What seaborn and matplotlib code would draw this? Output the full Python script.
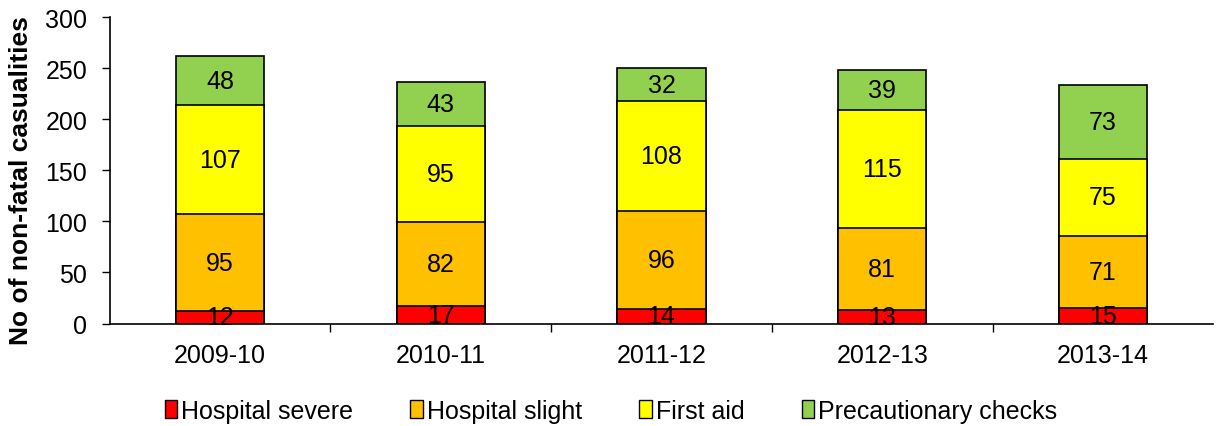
import numpy as np
import pandas as pd
import matplotlib
matplotlib.use("Agg")
import matplotlib.pyplot as plt
import seaborn as sns
from matplotlib.patches import Patch

# ---------------- Data ----------------
years = ["2009-10", "2010-11", "2011-12", "2012-13", "2013-14"]
hospital_severe = [12, 17, 14, 13, 15]
hospital_slight = [95, 82, 96, 81, 71]
first_aid = [107, 95, 108, 115, 75]
precautionary = [48, 43, 32, 39, 73]

series_names = ["Hospital severe", "Hospital slight", "First aid", "Precautionary checks"]
colors = ["#FF0000", "#FFC000", "#FFFF00", "#92D050"]

df = pd.DataFrame({
    "Year": years,
    "Hospital severe": hospital_severe,
    "Hospital slight": hospital_slight,
    "First aid": first_aid,
    "Precautionary checks": precautionary,
})

# cumulative heights for stacking
cum = df[series_names].cumsum(axis=1)

sns.set_style("white")
plt.rcParams["font.family"] = ["Liberation Sans", "DejaVu Sans"]
plt.rcParams["text.color"] = "black"
plt.rcParams["axes.labelcolor"] = "black"
plt.rcParams["xtick.color"] = "black"
plt.rcParams["ytick.color"] = "black"

fig, ax = plt.subplots(figsize=(12.17, 4.27), dpi=100)

# draw tallest stack first, then overlay lower ones
for name, col in reversed(list(zip(series_names, colors))):
    sns.barplot(x=df["Year"], y=cum[name], color=col, edgecolor="black",
                linewidth=1.2, width=0.4, saturation=1, ax=ax, zorder=2)

# segment labels
for i in range(len(years)):
    bottom = 0
    for name in series_names:
        v = df[name][i]
        ax.text(i, bottom + v / 2, str(v), ha="center", va="center",
                fontsize=18, color="black", zorder=3)
        bottom += v

ax.set_ylim(0, 300)
ax.set_xlim(-0.5, len(years) - 0.5)
ax.set_yticks(range(0, 301, 50))
ax.set_ylabel("No of non-fatal casualities", fontsize=19, fontweight="bold")
ax.yaxis.set_label_coords(-0.069, 0.47)
ax.set_xlabel("")
ax.tick_params(axis="both", labelsize=18, labelcolor="black", colors="black")
ax.tick_params(axis="y", direction="out", length=6, width=1, left=True, pad=10)
ax.tick_params(axis="x", which="major", length=0, pad=14)
ax.set_xticks(np.arange(0.5, len(years) - 0.5, 1), minor=True)
ax.tick_params(axis="x", which="minor", direction="out", length=6, width=1, bottom=True, color="black")

sns.despine(ax=ax)
for s in ["left", "bottom"]:
    ax.spines[s].set_color("black")
    ax.spines[s].set_linewidth(1.2)
ax.spines["bottom"].set_zorder(4)

handles = [Patch(facecolor=c, edgecolor="black", label=n) for n, c in zip(series_names, colors)]
fig.legend(handles=handles, loc="lower center", bbox_to_anchor=(0.502, -0.045), ncol=4,
           frameon=False, fontsize=18, handlelength=0.5, handleheight=0.7,
           handletextpad=0.15, columnspacing=2.3, labelcolor="black")

plt.subplots_adjust(left=0.09, right=0.997, top=0.957, bottom=0.24)
plt.savefig("out.png", dpi=100)
